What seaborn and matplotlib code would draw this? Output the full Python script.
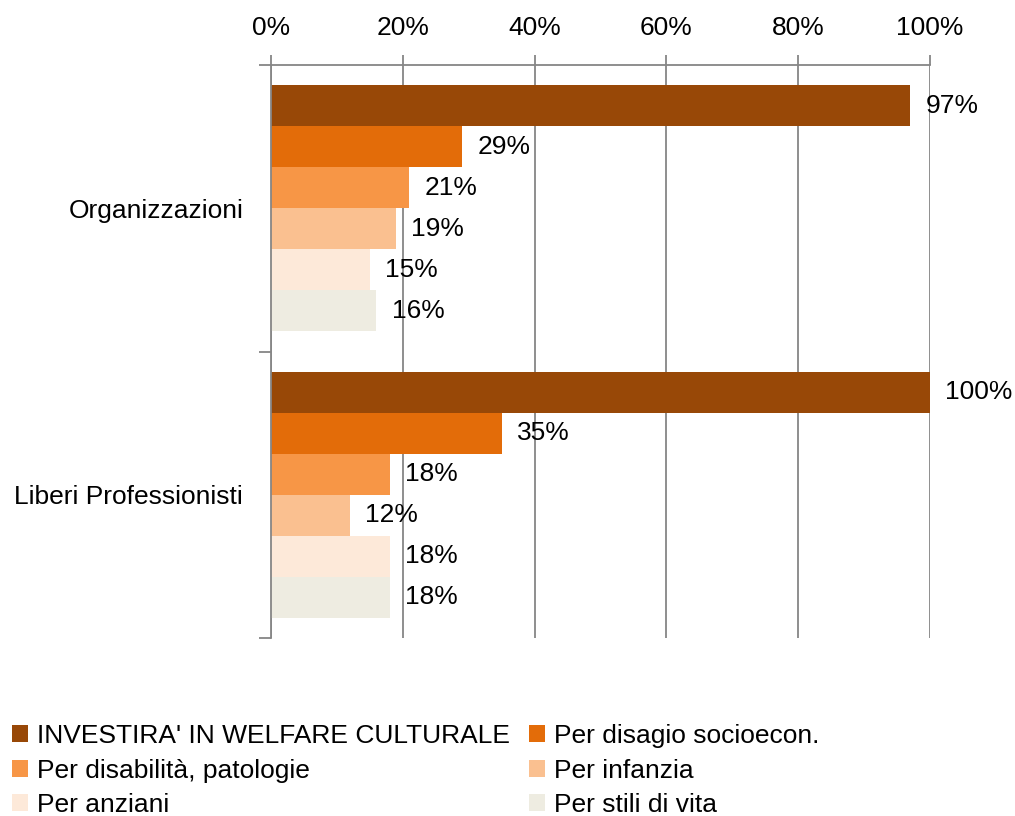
import matplotlib
matplotlib.use("Agg")
import matplotlib.pyplot as plt
import seaborn as sns
import pandas as pd
from matplotlib.ticker import FixedLocator

groups = ["Organizzazioni", "Liberi Professionisti"]
series = ["INVESTIRA' IN WELFARE CULTURALE", "Per disagio socioecon.",
          "Per disabilità, patologie", "Per infanzia", "Per anziani", "Per stili di vita"]
org_values = [97, 29, 21, 19, 15, 16]
lib_values = [100, 35, 18, 12, 18, 18]
x_ticks = [0, 20, 40, 60, 80, 100]
x_tick_labels = ["0%", "20%", "40%", "60%", "80%", "100%"]
colors = ["#984807", "#E36C09", "#F79646", "#FAC090", "#FDE9D9", "#EEECE1"]

rows = []
for s, v in zip(series, org_values):
    rows.append({"group": groups[0], "series": s, "value": v})
for s, v in zip(series, lib_values):
    rows.append({"group": groups[1], "series": s, "value": v})
df = pd.DataFrame(rows)

sns.set_style("white")
plt.rcParams['font.family'] = ['Liberation Sans Narrow', 'Liberation Sans', 'DejaVu Sans']
plt.rcParams['text.color'] = 'black'
plt.rcParams['xtick.color'] = 'black'
plt.rcParams['ytick.color'] = 'black'
FS = 19
grey = "#868686"

fig = plt.figure(figsize=(10.15, 8.16), dpi=100)
ax = fig.add_axes([271/1015, 1-638/816, (930-271)/1015, (638-65)/816])

sns.barplot(data=df, y="group", x="value", hue="series", hue_order=series,
            order=groups, palette=colors, orient="h", width=0.857,
            saturation=1, ax=ax, legend=True, linewidth=0)

for cont in ax.containers:
    ax.bar_label(cont, labels=[f"{int(round(b.get_width()))}%" for b in cont],
                 padding=11, fontsize=FS, color="black")

ax.set_xlim(0, 100)
ax.set_ylim(1.5, -0.5)
ax.xaxis.tick_top()
ax.set_xticks(x_ticks)
ax.set_xticklabels(x_tick_labels, fontsize=FS)
ax.tick_params(axis="x", length=7, color=grey, width=1.3, pad=11, labelcolor="black")
ax.set_yticks([0, 1])
ax.set_yticklabels(groups, fontsize=FS)
ax.tick_params(axis="y", which="major", length=0, pad=20, labelcolor="black")
ax.yaxis.set_minor_locator(FixedLocator([-0.5, 0.5, 1.5]))
ax.tick_params(axis="y", which="minor", left=True, length=9, color=grey, width=1.3)
ax.set_xlabel("")
ax.set_ylabel("")
ax.grid(axis="x", color=grey, linewidth=1.3)
ax.set_axisbelow(True)
for side in ["right", "bottom"]:
    ax.spines[side].set_visible(False)
for side in ["top", "left"]:
    ax.spines[side].set_color(grey)
    ax.spines[side].set_linewidth(1.3)

handles, labels = ax.get_legend_handles_labels()
ax.get_legend().remove()
order = [0, 2, 4, 1, 3, 5]
fig.legend([handles[i] for i in order], [labels[i] for i in order],
           loc="upper left", bbox_to_anchor=(0.012, 1-724/816),
           ncol=2, frameon=False, fontsize=FS, handlelength=0.6, handleheight=0.6,
           handletextpad=0.35, columnspacing=0.7, labelspacing=0.4, borderpad=0,
           borderaxespad=0)

fig.savefig("out.png", dpi=100)
